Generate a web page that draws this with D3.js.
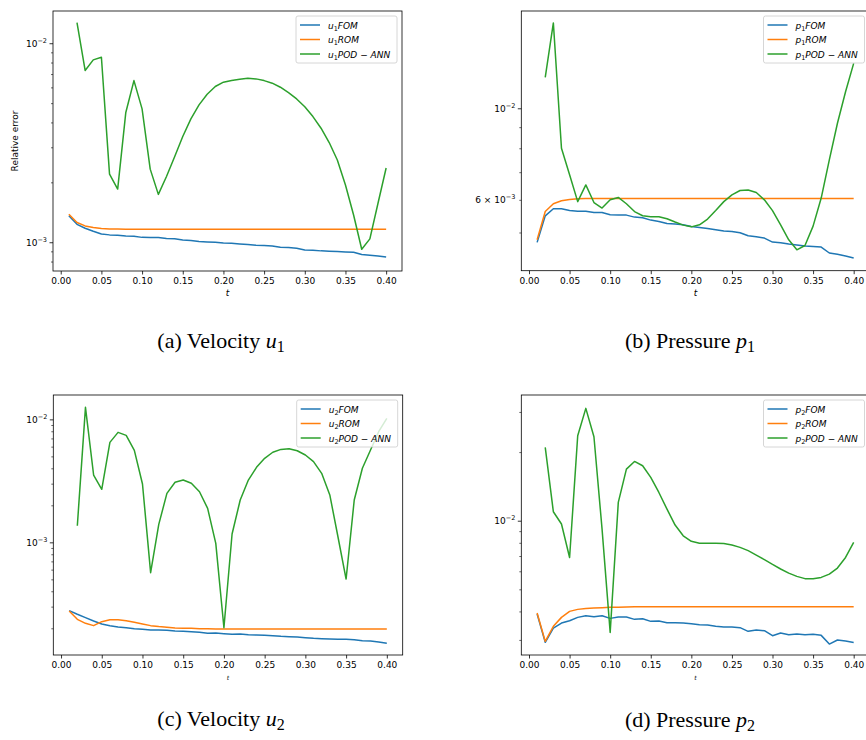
<!DOCTYPE html>
<html>
<head>
<meta charset="utf-8">
<script src="https://cdn.jsdelivr.net/npm/d3@7"></script>
<style>
  body { margin: 0; background: #fff; }
  .tick text { font-family: "DejaVu Sans", sans-serif; font-size: 9px; fill: #000; }
  .caption { font-family: "Liberation Serif", serif; font-size: 22px; }
  .leg text { font-family: "DejaVu Sans", sans-serif; font-size: 9px; font-style: italic; }
</style>
</head>
<body>
<div class="chart"></div>
<script>
// time steps
var t = [0.01, 0.02, 0.03, 0.04, 0.05, 0.06, 0.07, 0.08, 0.09, 0.10,
         0.11, 0.12, 0.13, 0.14, 0.15, 0.16, 0.17, 0.18, 0.19, 0.20,
         0.21, 0.22, 0.23, 0.24, 0.25, 0.26, 0.27, 0.28, 0.29, 0.30,
         0.31, 0.32, 0.33, 0.34, 0.35, 0.36, 0.37, 0.38, 0.39, 0.40];
var xTicks = [0.00, 0.05, 0.10, 0.15, 0.20, 0.25, 0.30, 0.35, 0.40];

// (a) velocity u1
var u1FOM = [0.00136, 0.00123, 0.001176, 0.001136, 0.001101, 0.001089, 0.001085, 0.001076, 0.001072, 0.001058,
             0.001055, 0.001055, 0.001043, 0.00104, 0.001027, 0.001019, 0.001008, 0.001004, 0.001, 0.000992,
             0.000989, 0.000981, 0.000973, 0.000966, 0.000962, 0.000958, 0.000944, 0.00094, 0.000933, 0.000915,
             0.000912, 0.000905, 0.000901, 0.000898, 0.000894, 0.000891, 0.000867, 0.00086, 0.000854, 0.000844];
var u1ROM = [0.001382, 0.001256, 0.001208, 0.001185, 0.001171, 0.001166, 0.001164, 0.001163, 0.001162, 0.001162,
             0.001162, 0.001162, 0.001162, 0.001162, 0.001162, 0.001162, 0.001162, 0.001162, 0.001162, 0.001162,
             0.001162, 0.001162, 0.001162, 0.001162, 0.001162, 0.001162, 0.001162, 0.001162, 0.001162, 0.001162,
             0.001162, 0.001162, 0.001162, 0.001162, 0.001162, 0.001162, 0.001162, 0.001162, 0.001162, 0.001162];
var u1ANN = [null, 0.0127, 0.0073, 0.00825, 0.0085, 0.0022, 0.00185, 0.00449, 0.00649, 0.00468,
             0.00233, 0.00174, 0.00214, 0.00269, 0.0034, 0.00417, 0.0049, 0.00554, 0.00606, 0.00637,
             0.0065, 0.0066, 0.00667, 0.00662, 0.00649, 0.0063, 0.00601, 0.00565, 0.00525, 0.0048,
             0.00428, 0.00374, 0.00317, 0.00259, 0.00194, 0.00137, 0.000922, 0.00104, 0.00157, 0.00236];

// (b) pressure p1
var p1FOM = [0.004732, 0.005487, 0.005707, 0.005707, 0.005654, 0.005633, 0.005633, 0.005592, 0.005592, 0.005519,
             0.005509, 0.005509, 0.005448, 0.005428, 0.005358, 0.005318, 0.00526, 0.00524, 0.00522, 0.005172,
             0.005144, 0.005115, 0.005077, 0.005039, 0.00503, 0.004993, 0.00491, 0.004883, 0.004847, 0.00474,
             0.004722, 0.004688, 0.004661, 0.004635, 0.004627, 0.00461, 0.004459, 0.004426, 0.004385, 0.004337];
var p1ROM = [0.004802, 0.005623, 0.005868, 0.005967, 0.006013, 0.006035, 0.006046, 0.006046, 0.006046, 0.006046,
             0.006046, 0.006046, 0.006046, 0.006046, 0.006046, 0.006046, 0.006046, 0.006046, 0.006046, 0.006046,
             0.006046, 0.006046, 0.006046, 0.006046, 0.006046, 0.006046, 0.006046, 0.006046, 0.006046, 0.006046,
             0.006046, 0.006046, 0.006046, 0.006046, 0.006046, 0.006046, 0.006046, 0.006046, 0.006046, 0.006046];
var p1ANN = [null, 0.01189, 0.0161, 0.0080, 0.0069, 0.00594, 0.00652, 0.00591, 0.00573, 0.006,
             0.00608, 0.00587, 0.00562, 0.00549, 0.00546, 0.00546, 0.0054, 0.0053, 0.00521, 0.00516,
             0.00522, 0.00539, 0.00565, 0.00594, 0.00617, 0.00632, 0.00634, 0.00625, 0.006, 0.00565,
             0.00522, 0.0048, 0.00454, 0.00465, 0.00518, 0.00606, 0.0075, 0.0092, 0.01097, 0.01285];

// (c) velocity u2
var u2FOM = [0.0002782, 0.00026, 0.000244, 0.0002295, 0.0002168, 0.00021, 0.000205, 0.0002024, 0.0001987, 0.0001962,
             0.0001938, 0.0001938, 0.0001926, 0.0001902, 0.000189, 0.0001878, 0.0001855, 0.000182, 0.0001832, 0.0001809,
             0.0001786, 0.0001797, 0.0001775, 0.0001764, 0.0001753, 0.0001742, 0.000172, 0.000171, 0.0001699, 0.0001678,
             0.0001657, 0.0001647, 0.0001637, 0.0001626, 0.0001626, 0.0001616, 0.0001586, 0.0001577, 0.0001548, 0.000151];
var u2ROM = [0.0002765, 0.0002366, 0.0002195, 0.0002102, 0.0002265, 0.0002351, 0.0002351, 0.0002307, 0.0002237, 0.0002168,
             0.0002102, 0.0002064, 0.0002038, 0.0002012, 0.0001999, 0.0001999, 0.0001987, 0.0001987, 0.0001975, 0.0001975,
             0.0001975, 0.0001975, 0.0001975, 0.0001975, 0.0001975, 0.0001975, 0.0001975, 0.0001975, 0.0001975, 0.0001975,
             0.0001975, 0.0001975, 0.0001975, 0.0001975, 0.0001975, 0.0001975, 0.0001975, 0.0001975, 0.0001975, 0.0001975];
var u2ANN = [null, 0.001366, 0.01252, 0.003527, 0.0027, 0.0065, 0.00784, 0.00741, 0.0056, 0.00298,
             0.000567, 0.0014, 0.0025, 0.003077, 0.003213, 0.00302, 0.00258, 0.00189, 0.00098, 0.000202,
             0.00117, 0.00221, 0.00321, 0.00407, 0.00482, 0.0054, 0.0057, 0.00577, 0.00556, 0.00513,
             0.00453, 0.00364, 0.00243, 0.00111, 0.000503, 0.00221, 0.004, 0.00563, 0.00794, 0.01019];

// (d) pressure p2
var p2FOM = [0.003897, 0.002927, 0.003382, 0.003558, 0.003642, 0.003767, 0.003832, 0.003793, 0.003832, 0.003729,
             0.00378, 0.00378, 0.003692, 0.003717, 0.003618, 0.00363, 0.00357, 0.00357, 0.003558, 0.003534,
             0.003499, 0.003487, 0.00344, 0.003417, 0.003417, 0.003395, 0.003271, 0.003316, 0.003293, 0.00313,
             0.003216, 0.003162, 0.003184, 0.003162, 0.003173, 0.003141, 0.002877, 0.002996, 0.002966, 0.002926];
var p2ROM = [0.003936, 0.002957, 0.00344, 0.003767, 0.004002, 0.004084, 0.004125, 0.00414, 0.004154, 0.004168,
             0.004168, 0.004182, 0.004196, 0.004196, 0.004196, 0.004196, 0.004196, 0.004196, 0.004196, 0.004196,
             0.004196, 0.004196, 0.004196, 0.004196, 0.004196, 0.004196, 0.004196, 0.004196, 0.004196, 0.004196,
             0.004196, 0.004196, 0.004196, 0.004196, 0.004196, 0.004196, 0.004196, 0.004196, 0.004196, 0.004196];
var p2ANN = [null, 0.02098, 0.01095, 0.00967, 0.0069, 0.0236, 0.0311, 0.02335, 0.00919, 0.003237,
             0.01203, 0.01684, 0.0182, 0.01742, 0.01549, 0.0133, 0.01125, 0.00957, 0.00859, 0.00812,
             0.00796, 0.00796, 0.00796, 0.00794, 0.00782, 0.00764, 0.00739, 0.00707, 0.00675, 0.00643,
             0.00614, 0.00589, 0.0057, 0.00557, 0.00557, 0.00564, 0.00583, 0.0062, 0.0069, 0.00804];

// labelled y ticks per panel
var yLabelsA = [1e-2, 1e-3];
var yLabelsB = [1e-2, 6e-3];
var yLabelsC = [1e-2, 1e-3];
var yLabelsD = [1e-2];

var seriesNames = ['FOM', 'ROM', 'POD \u2212 ANN'];
var colors = ['#1f77b4', '#ff7f0e', '#2ca02c'];

//************************************************************
// Panel layout (pixel box of each axes and its log y range)
//************************************************************
var panels = [
    { left: 53, right: 402, top: 11, bottom: 271, ymin: 7.17e-4, ymax: 0.01452,
      sym: 'u', sub: '1', series: [u1FOM, u1ROM, u1ANN], ylab: yLabelsA,
      caption: 'Velocity', tag: '(a)', cx: 221, cy: 348, tsize: 9, ylabel: 'Relative error' },
    { left: 521.3, right: 869.5, top: 11, bottom: 270.7, ymin: 4.04e-3, ymax: 0.01721,
      sym: 'p', sub: '1', series: [p1FOM, p1ROM, p1ANN], ylab: yLabelsB,
      caption: 'Pressure', tag: '(b)', cx: 690, cy: 348, tsize: 9 },
    { left: 53.3, right: 402.7, top: 395, bottom: 655, ymin: 1.213e-4, ymax: 0.01578,
      sym: 'u', sub: '2', series: [u2FOM, u2ROM, u2ANN], ylab: yLabelsC,
      caption: 'Velocity', tag: '(c)', cx: 221, cy: 726, tsize: 6 },
    { left: 521.3, right: 869.5, top: 395, bottom: 655, ymin: 2.576e-3, ymax: 0.0356,
      sym: 'p', sub: '2', series: [p2FOM, p2ROM, p2ANN], ylab: yLabelsD,
      caption: 'Pressure', tag: '(d)', cx: 690, cy: 727, tsize: 6 }
];

var svg = d3.select(".chart").append("svg")
    .attr("width", 866)
    .attr("height", 740)
    .style("display", "block");

function sciParts(v) {
    var e = Math.floor(Math.log10(v) + 1e-9);
    var m = Math.round(v / Math.pow(10, e));
    return { m: m, e: e };
}

panels.forEach(function (p) {
    var x = d3.scaleLinear().domain([-0.0095, 0.4195]).range([p.left, p.right]);
    var y = d3.scaleLog().domain([p.ymin, p.ymax]).range([p.bottom, p.top]);

    var g = svg.append("g");

    // minor + major y ticks
    var minor = [], major = [];
    var e0 = Math.floor(Math.log10(p.ymin)), e1 = Math.ceil(Math.log10(p.ymax));
    for (var e = e0; e <= e1; e++) {
        for (var k = 1; k < 10; k++) {
            var v = k * Math.pow(10, e);
            if (v < p.ymin || v > p.ymax) continue;
            if (k === 1) major.push(v); else minor.push(v);
        }
    }

    g.append("g")
        .attr("transform", "translate(" + p.left + ",0)")
        .call(d3.axisLeft(y).tickValues(minor).tickSize(2).tickFormat(""))
        .call(function (a) { a.select(".domain").remove(); a.selectAll("line").attr("stroke-width", 0.6); });

    g.append("g")
        .attr("transform", "translate(" + p.left + ",0)")
        .call(d3.axisLeft(y).tickValues(major).tickSize(3.5).tickFormat(""))
        .call(function (a) { a.select(".domain").remove(); a.selectAll("line").attr("stroke-width", 0.8); });

    // y labels with superscripts
    p.ylab.forEach(function (v) {
        var s = sciParts(v);
        var txt = g.append("text")
            .attr("x", p.left - 6)
            .attr("y", y(v) + 3.5)
            .attr("text-anchor", "end")
            .style("font-family", "DejaVu Sans, sans-serif")
            .style("font-size", "9px");
        txt.append("tspan").text((s.m === 1 ? "" : s.m + " \u00d7 ") + "10");
        txt.append("tspan").attr("dy", -4).style("font-size", "6.5px").text("\u2212" + (-s.e));
    });

    // x axis
    g.append("g")
        .attr("transform", "translate(0," + p.bottom + ")")
        .call(d3.axisBottom(x).tickValues(xTicks).tickSize(3.5).tickPadding(3).tickFormat(d3.format(".2f")))
        .call(function (a) { a.select(".domain").remove(); a.selectAll("line").attr("stroke-width", 0.8); });

    g.append("text")
        .attr("x", (p.left + p.right) / 2)
        .attr("y", p.bottom + 25)
        .attr("text-anchor", "middle")
        .style("font-family", "DejaVu Sans, sans-serif")
        .style("font-style", "italic")
        .style("font-size", p.tsize + "px")
        .text("t");

    if (p.ylabel) {
        g.append("text")
            .attr("transform", "translate(18," + ((p.top + p.bottom) / 2) + ") rotate(-90)")
            .attr("text-anchor", "middle")
            .style("font-family", "DejaVu Sans, sans-serif")
            .style("font-size", "9px")
            .text(p.ylabel);
    }

    // lines
    var line = d3.line()
        .defined(function (d) { return d != null; })
        .x(function (d, i) { return x(t[i]); })
        .y(function (d) { return y(d); });

    g.selectAll(".line")
        .data(p.series)
        .enter()
        .append("path")
        .attr("fill", "none")
        .attr("stroke", function (d, i) { return colors[i]; })
        .attr("stroke-width", 1.5)
        .attr("stroke-linejoin", "round")
        .attr("d", line);

    // frame
    g.append("rect")
        .attr("x", p.left).attr("y", p.top)
        .attr("width", p.right - p.left).attr("height", p.bottom - p.top)
        .attr("fill", "none").attr("stroke", "#000").attr("stroke-width", 0.8);

    // legend
    var lw = 101, lh = 47;
    var lx = p.right - 5 - lw, ly = p.top + 5;
    var leg = g.append("g").attr("class", "leg");
    leg.append("rect")
        .attr("x", lx).attr("y", ly).attr("width", lw).attr("height", lh)
        .attr("rx", 2).attr("fill", "#fff").attr("fill-opacity", 0.8)
        .attr("stroke", "#cccccc").attr("stroke-width", 0.8);
    seriesNames.forEach(function (name, i) {
        var ry = ly + 9 + i * 14.5;
        leg.append("line")
            .attr("x1", lx + 4).attr("x2", lx + 24)
            .attr("y1", ry).attr("y2", ry)
            .attr("stroke", colors[i]).attr("stroke-width", 1.5);
        var tx = leg.append("text").attr("x", lx + 32).attr("y", ry + 3.5);
        tx.append("tspan").text(p.sym);
        tx.append("tspan").attr("dy", 2).style("font-size", "6.5px").style("font-style", "normal").text(p.sub);
        tx.append("tspan").attr("dy", -2).text(name);
    });

    // caption
    var cap = svg.append("text")
        .attr("class", "caption")
        .attr("x", p.cx).attr("y", p.cy)
        .attr("text-anchor", "middle");
    cap.append("tspan").text(p.tag + " " + p.caption + " ");
    cap.append("tspan").style("font-style", "italic").text(p.sym);
    cap.append("tspan").attr("dy", 4).style("font-size", "16px").text(p.sub);
});
</script>
</body>
</html>
